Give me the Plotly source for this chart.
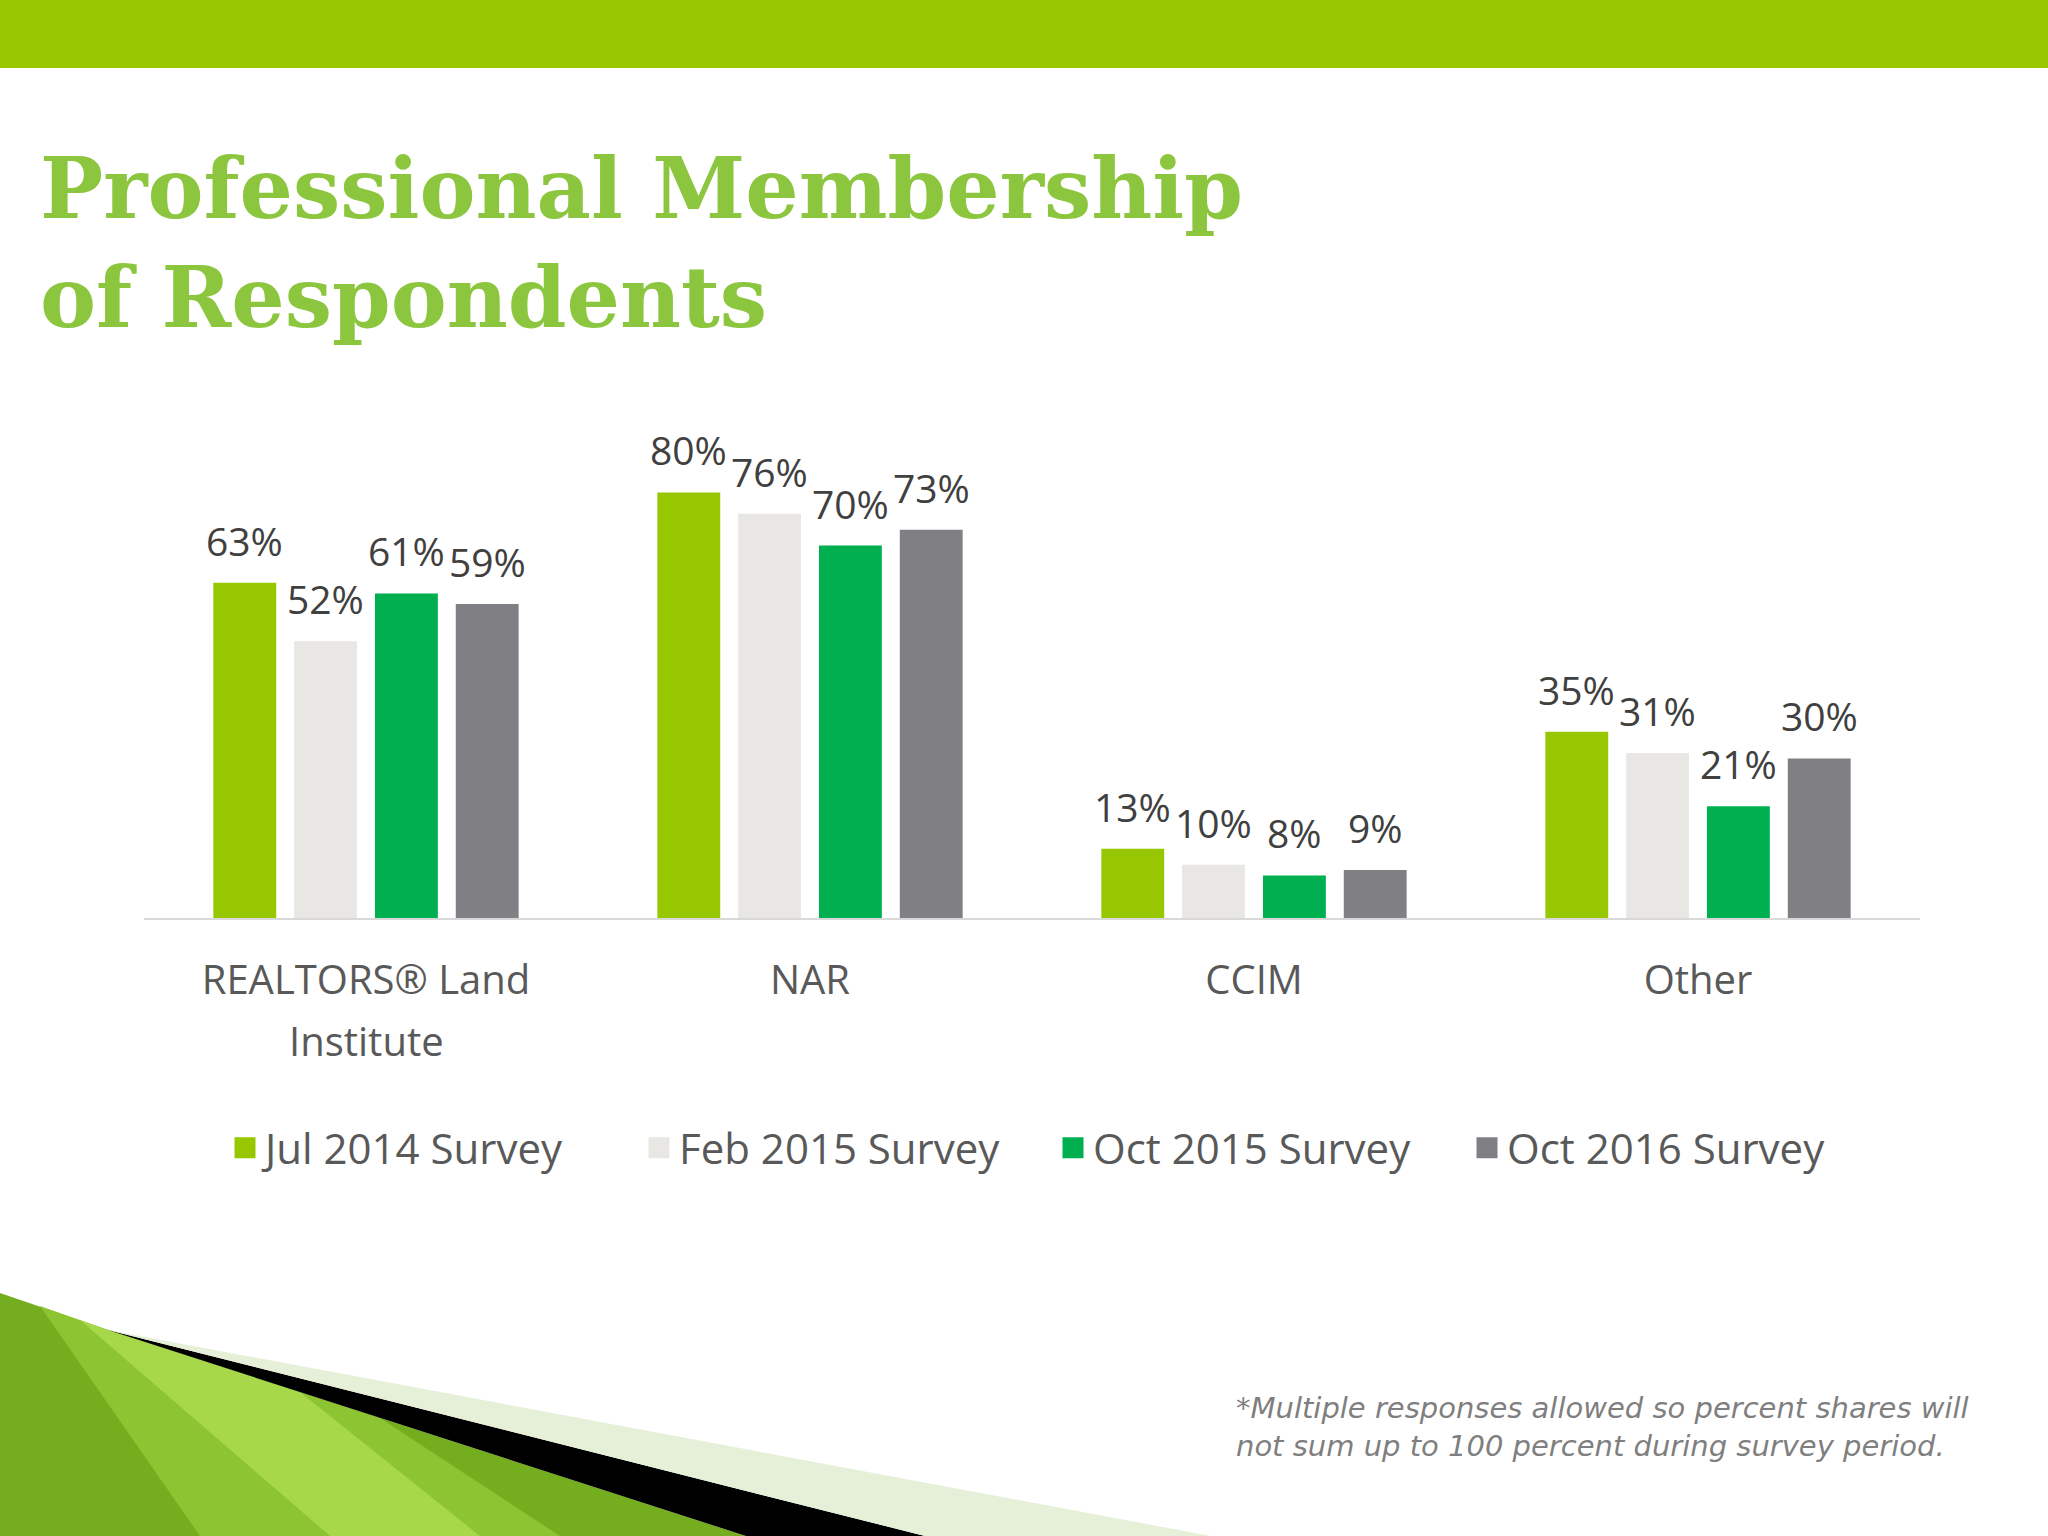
import plotly.graph_objects as go

# ---------------- data ----------------
categories = ["REALTORS® Land Institute", "NAR", "CCIM", "Other"]
tick_labels = ["REALTORS® Land", "NAR", "CCIM", "Other"]
tick_second_lines = ["Institute", "", "", ""]
series_names = ["Jul 2014 Survey", "Feb 2015 Survey", "Oct 2015 Survey", "Oct 2016 Survey"]
jul_2014 = [63, 80, 13, 35]
feb_2015 = [52, 76, 10, 31]
oct_2015 = [61, 70, 8, 21]
oct_2016 = [59, 73, 9, 30]
series_values = [jul_2014, feb_2015, oct_2015, oct_2016]
colors = ["#97C700", "#E8E7E4", "#00B050", "#807F83"]

title_text = "Professional Membership<br>of Respondents"
footnote = ("*Multiple responses allowed so percent shares will<br>"
            "not sum up to 100 percent during survey period.")

# ---------------- layout geometry (pixels) ----------------
FW, FH = 2048, 1536
L, R, T, B = 144, 128, 386, 618
W, H = FW - L - R, FH - T - B
BASE_Y = FH - B
BARGAP, GROUPGAP = 0.272, 0.222
slot_px = W / len(categories) * (1 - BARGAP) / len(series_names)


def px(x):
    return (x - L) / W


def py(y):
    return (BASE_Y - y) / H


def path(points):
    return "M " + " L ".join(f"{px(x):.5f},{py(y):.5f}" for x, y in points) + " Z"


fig = go.Figure()

for name, vals, col in zip(series_names, series_values, colors):
    fig.add_trace(go.Bar(x=categories, y=vals, name=name, marker_color=col,
                         marker_line_width=0, showlegend=False, hoverinfo="skip"))

# legend entries (square markers)
for name, col in zip(series_names, colors):
    fig.add_trace(go.Scatter(x=[None], y=[None], mode="markers", name=name,
                             marker=dict(symbol="square", size=16, color=col,
                                         line=dict(color=col, width=5))))

annotations = []
for j, vals in enumerate(series_values):
    for cat, v in zip(categories, vals):
        annotations.append(dict(
            x=cat, y=v, xref="x", yref="y", text=f"{v}%", showarrow=False,
            xshift=(j - 1.5) * slot_px, yanchor="bottom", yshift=14,
            font=dict(family="Open Sans", size=39, color="#404040")))

for cat, second in zip(categories, tick_second_lines):
    if second:
        annotations.append(dict(
            x=cat, y=py(1040), xref="x", yref="paper", text=second,
            showarrow=False, yanchor="middle",
            font=dict(family="Open Sans", size=40, color="#595959")))

annotations.append(dict(
    x=px(1234), y=py(1427), xref="paper", yref="paper",
    xanchor="left", yanchor="middle", align="left", showarrow=False,
    text=f"<i>{footnote}</i>",
    font=dict(family="DejaVu Sans", size=29, color="#7F7F7F")))

shapes = [
    dict(type="rect", xref="paper", yref="paper", x0=px(0), x1=px(FW),
         y0=py(0), y1=py(68), fillcolor="#99C700", line_width=0, layer="below"),
    # decorative swoosh, bottom-left
    dict(type="path", xref="paper", yref="paper", layer="below", line_width=0,
         path=path([(0, 1293), (108, 1330), (746, 1536), (0, 1536)]),
         fillcolor="#74AE1F"),
    dict(type="path", xref="paper", yref="paper", layer="below", line_width=0,
         path=path([(40, 1306), (108, 1330), (380, 1418), (560, 1536), (200, 1536)]),
         fillcolor="#8DC432"),
    dict(type="path", xref="paper", yref="paper", layer="below", line_width=0,
         path=path([(80, 1320), (108, 1330), (300, 1392), (480, 1536), (330, 1536)]),
         fillcolor="#A6D84A"),
    dict(type="path", xref="paper", yref="paper", layer="below", line_width=0,
         path=path([(108, 1330), (925, 1536), (746, 1536)]),
         fillcolor="#000000"),
    dict(type="path", xref="paper", yref="paper", layer="below", line_width=0,
         path=path([(108, 1330), (1211, 1536), (925, 1536)]),
         fillcolor="#E6F0D8"),
]

fig.update_layout(
    width=FW, height=FH,
    margin=dict(l=L, r=R, t=T, b=B, pad=0),
    paper_bgcolor="white", plot_bgcolor="white",
    barmode="group", bargap=BARGAP, bargroupgap=GROUPGAP,
    title=dict(text=title_text, x=40 / FW, xref="container", xanchor="left",
               y=1 - 218 / FH, yref="container", yanchor="top",
               font=dict(family="DejaVu Serif", size=84, color="#8CC63F",
                         weight="bold")),
    xaxis=dict(tickmode="array", tickvals=categories, ticktext=tick_labels,
               showline=True, linecolor="#D9D9D9", linewidth=2,
               showgrid=False, ticks="", ticklabelstandoff=26,
               tickfont=dict(family="Open Sans", size=40, color="#595959")),
    yaxis=dict(range=[0, 100], visible=False),
    showlegend=True,
    legend=dict(orientation="h", x=0.5 + 21 / W, xanchor="center",
                y=py(1148), yanchor="middle",
                font=dict(family="Open Sans", size=42, color="#595959"),
                entrywidth=369, entrywidthmode="pixels",
                bgcolor="rgba(0,0,0,0)"),
    annotations=annotations,
    shapes=shapes,
)

fig.write_html("out.html",
               config={"displayModeBar": False},
               post_script="document.body.style.margin='0';"
                           "document.body.style.overflow='hidden';")
